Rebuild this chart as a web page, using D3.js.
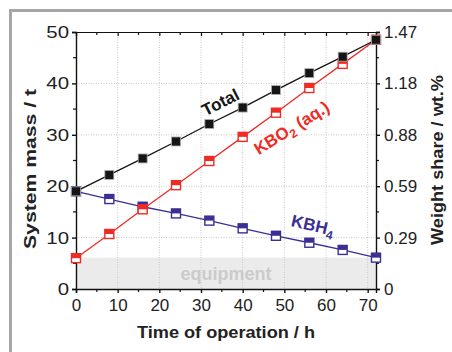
<!DOCTYPE html>
<html>
<head>
<meta charset="utf-8">
<script src="https://cdn.jsdelivr.net/npm/d3@7"></script>
<style>
  body { margin: 0; background: #fff; }
  svg { display: block; font-family: "Liberation Sans", Arial, sans-serif; }
  .tick text { font-size: 17px; fill: #222; }
  .axis path, .axis line { stroke: #111; }
  .grid line { stroke: #c8c8c8; stroke-dasharray: 1,1.5; }
  .title { font-size: 16px; font-weight: bold; fill: #222; }
</style>
</head>
<body>
<div class="graph"></div>
<script>
var time = [0, 8, 16, 24, 32, 40, 48, 56, 64, 72];
var total = [19, 22.2, 25.4, 28.7, 32.1, 35.3, 38.7, 42.0, 45.2, 48.5];
var kbo2 = [6, 10.7, 15.5, 20.2, 24.9, 29.6, 34.3, 39.1, 43.8, 48.5];
var kbh4 = [19, 17.5, 16.0, 14.7, 13.3, 11.8, 10.35, 9.0, 7.6, 6.1];
var equipment = 6.1;
var xTicks = [0, 10, 20, 30, 40, 50, 60, 70];
var yTicks = [0, 10, 20, 30, 40, 50];
var rightLabels = ['0', '0.29', '0.59', '0.88', '1.18', '1.47'];

var W = 452, H = 352;
var margin = {top: 32, right: 76, bottom: 63, left: 76},
    width = 376 - margin.left,
    height = 289 - margin.top;

var x = d3.scaleLinear().domain([0, 72]).range([0, width]),
    y = d3.scaleLinear().domain([0, 50]).range([height, 0]);

var svg = d3.select('.graph')
            .append('svg')
            .attr('width', W)
            .attr('height', H);

// outer frame (top and left edges only show)
svg.append('path')
   .attr('d', 'M10.5,' + H + 'V10.5H' + W)
   .attr('fill', 'none')
   .attr('stroke', '#a6a6a6')
   .attr('stroke-width', 3);

var g = svg.append('g')
           .attr('transform', 'translate(' + margin.left + ',' + margin.top + ')');

// equipment band
g.append('rect')
 .attr('x', 0)
 .attr('y', y(equipment))
 .attr('width', width)
 .attr('height', y(0) - y(equipment))
 .attr('fill', '#ebebeb');

g.append('text')
 .attr('x', x(36))
 .attr('y', y(equipment / 2))
 .attr('dy', '.35em')
 .attr('text-anchor', 'middle')
 .style('font-size', '18px')
 .style('font-weight', 'bold')
 .style('fill', '#cbcbcb')
 .text('equipment');

// grid
var grid = g.append('g').attr('class', 'grid');
grid.selectAll('.gx')
    .data(xTicks.filter(function(d) { return d > 0; }))
    .enter().append('line')
    .attr('x1', function(d) { return x(d); })
    .attr('x2', function(d) { return x(d); })
    .attr('y1', 0)
    .attr('y2', height);
grid.selectAll('.gy')
    .data(yTicks.filter(function(d) { return d > 0 && d < 50; }))
    .enter().append('line')
    .attr('x1', 0)
    .attr('x2', width)
    .attr('y1', function(d) { return y(d); })
    .attr('y2', function(d) { return y(d); });

// axes
var minorX = d3.range(5, 72, 10), minorY = d3.range(5, 50, 10);

function minor(axisG, vals, color, fn) {
  axisG.selectAll('.minor')
       .data(vals)
       .enter().append('line')
       .attr('class', 'minor')
       .attr('stroke', color)
       .attr('stroke-width', 1.2)
       .each(fn);
}

var bottomAx = g.append('g')
                .attr('class', 'axis')
                .attr('transform', 'translate(0,' + height + ')')
                .call(d3.axisBottom(x).tickValues(xTicks).tickSize(4).tickPadding(6).tickFormat(d3.format('d')));
minor(bottomAx, minorX, '#111', function(d) { d3.select(this).attr('x1', x(d)).attr('x2', x(d)).attr('y1', 0).attr('y2', 3); });

var topAx = g.append('g')
             .attr('class', 'axis')
             .call(d3.axisTop(x).tickValues(xTicks).tickSize(-4).tickFormat(''));
minor(topAx, minorX, '#111', function(d) { d3.select(this).attr('x1', x(d)).attr('x2', x(d)).attr('y1', 0).attr('y2', 3); });

var leftAx = g.append('g')
              .attr('class', 'axis')
              .call(d3.axisLeft(y).tickValues(yTicks).tickSize(4).tickPadding(3));
minor(leftAx, minorY, '#111', function(d) { d3.select(this).attr('x1', 0).attr('x2', -3).attr('y1', y(d)).attr('y2', y(d)); });
// left labels are drawn a little wider in the original
leftAx.selectAll('.tick text').each(function() {
  var t = d3.select(this);
  t.attr('textLength', this.getComputedTextLength() * 1.2).attr('lengthAdjust', 'spacingAndGlyphs');
});

var rightAx = g.append('g')
               .attr('class', 'axis')
               .attr('transform', 'translate(' + width + ',0)')
               .call(d3.axisRight(y).tickValues(yTicks).tickSize(4).tickPadding(4)
                       .tickFormat(function(d, i) { return rightLabels[i]; }));
rightAx.selectAll('path, line').attr('stroke', '#444');
minor(rightAx, minorY, '#444', function(d) { d3.select(this).attr('x1', 0).attr('x2', 3).attr('y1', y(d)).attr('y2', y(d)); });

[bottomAx, leftAx, rightAx].forEach(function(a) {
  a.selectAll('path, .tick line').attr('stroke-width', 1.4);
});
topAx.selectAll('path, .tick line').attr('stroke-width', 1.2);

// axis titles
svg.append('text')
   .attr('class', 'title')
   .attr('x', margin.left + width / 2)
   .attr('y', 338)
   .attr('text-anchor', 'middle')
   .attr('textLength', 178)
   .attr('lengthAdjust', 'spacingAndGlyphs')
   .text('Time of operation / h');

svg.append('text')
   .attr('class', 'title')
   .attr('transform', 'translate(36,169) rotate(-90)')
   .attr('text-anchor', 'middle')
   .attr('textLength', 160)
   .attr('lengthAdjust', 'spacingAndGlyphs')
   .text('System mass / t');

svg.append('text')
   .attr('class', 'title')
   .attr('transform', 'translate(443,160) rotate(-90)')
   .attr('text-anchor', 'middle')
   .attr('textLength', 170)
   .attr('lengthAdjust', 'spacingAndGlyphs')
   .text('Weight share / wt.%');

// series
var series = [
  {name: 'kbh4', values: kbh4, color: '#3b2f95', solid: false},
  {name: 'kbo2', values: kbo2, color: '#ee2b25', solid: false},
  {name: 'total', values: total, color: '#151515', solid: true}
];

var line = d3.line()
             .x(function(d, i) { return x(time[i]); })
             .y(function(d) { return y(d); });

series.forEach(function(s) {
  g.append('path')
   .datum(s.values)
   .attr('fill', 'none')
   .attr('stroke', s.color)
   .attr('stroke-width', 1.3)
   .attr('d', line);

  var m = g.selectAll('.m-' + s.name)
           .data(s.values)
           .enter().append('g')
           .attr('class', 'm-' + s.name)
           .attr('transform', function(d, i) { return 'translate(' + x(time[i]) + ',' + y(d) + ')'; });

  var sz = 9;
  if (s.solid) {
    m.append('rect')
     .attr('x', -sz / 2).attr('y', -sz / 2)
     .attr('width', sz).attr('height', sz)
     .attr('fill', s.color)
     .attr('stroke', '#b0b0b0')
     .attr('stroke-width', 0.8);
  } else {
    m.append('rect')
     .attr('x', -sz / 2).attr('y', -sz / 2)
     .attr('width', sz).attr('height', sz)
     .attr('fill', '#fff')
     .attr('stroke', s.color)
     .attr('stroke-width', 1.4);
    m.append('rect')
     .attr('x', -sz / 2).attr('y', -sz / 2)
     .attr('width', sz).attr('height', sz / 2)
     .attr('fill', s.color);
  }
});

// labels
function rotLabel(tx, ty, deg, color, size) {
  return g.append('text')
          .attr('transform', 'translate(' + tx + ',' + ty + ') rotate(' + deg + ')')
          .attr('text-anchor', 'middle')
          .style('font-size', size + 'px')
          .style('font-weight', 'bold')
          .style('fill', color);
}

rotLabel(x(36.5) - 5, y(35.5) + 1, -27, '#151515', 17).text('Total');

var kl = rotLabel(x(52.5), y(30) - 2, -32, '#ee2b25', 17);
kl.append('tspan').text('KBO');
kl.append('tspan').attr('dy', 4).style('font-size', '12px').text('2');
kl.append('tspan').attr('dy', -4).text(' (aq.)');

var bl = rotLabel(x(56.5), y(11.5) + 1, 13, '#3b2f95', 17);
bl.append('tspan').text('KBH');
bl.append('tspan').attr('dy', 4).style('font-size', '12px').text('4');
</script>
</body>
</html>
